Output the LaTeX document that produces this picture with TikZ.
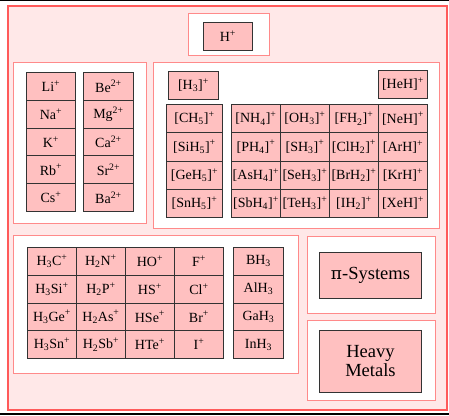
\documentclass[tikz,border=0pt]{standalone}
\usepackage{fontspec}
\setmainfont{Liberation Serif}
\definecolor{outerfill}{HTML}{FFE8E8}
\definecolor{outerdraw}{HTML}{FF5A5A}
\definecolor{groupdraw}{HTML}{FF8A8A}
\definecolor{cellfill}{HTML}{FFC0C0}
\definecolor{celldraw}{HTML}{333333}
\newcommand{\sps}{\textsuperscript{+}}
\newcommand{\spp}{\textsuperscript{2+}}
\newcommand{\sbs}[1]{\textsubscript{#1}}
\tikzset{
  outerbox/.style={draw=outerdraw, fill=outerfill, line width=1.5pt},
  groupbox/.style={draw=groupdraw, fill=white, line width=1.4pt},
  cell/.style={draw=celldraw, fill=cellfill, line width=0.9pt, inner sep=0pt,
    anchor=north west, font=\fontsize{14}{15}\selectfont},
  bigcell/.style={cell, font=\fontsize{18.5}{19}\selectfont, align=center},
}
% \boxat{name}{style}{x1}{y1}{x2}{y2}{text}
\newcommand{\boxat}[7]{%
  \node[#2, minimum width={#5pt-#3pt}, minimum height={#6pt-#4pt},
        anchor=north west, inner sep=0pt] (#1) at (#3,#4) {#7};}
\begin{document}
\begin{tikzpicture}[x=1pt,y=-1pt]
\useasboundingbox (0,0) rectangle (449,415);
\fill[black] (0,0) rectangle (449,1.2);
\fill[black] (0,412.5) rectangle (449,415);
\boxat{outer}{outerbox}{7}{5}{446}{409}{}
% groups
\boxat{gH}{groupbox}{188}{13}{269}{55}{}
\boxat{gAlk}{groupbox}{13}{62}{146}{223}{}
\boxat{gOnium}{groupbox}{153}{62}{439}{228}{}
\boxat{gHyd}{groupbox}{13}{235}{298}{373}{}
\boxat{gPi}{groupbox}{307}{236}{435}{313}{}
\boxat{gHeavy}{groupbox}{307}{320}{435}{400}{}
% H+
\boxat{hplus}{cell}{203}{22}{252}{50}{H\sps}
% alkali / alkaline earth
\foreach \t [count=\i from 0] in {Li\sps, Na\sps, K\sps, Rb\sps, Cs\sps}
  \node[cell, minimum width=49pt, minimum height=27.8pt] (alk\i) at (26,{72+27.8*\i}) {\t};
\foreach \t [count=\i from 0] in {Be\spp, Mg\spp, Ca\spp, Sr\spp, Ba\spp}
  \node[cell, minimum width=50pt, minimum height=27.8pt] (ear\i) at (83,{72+27.8*\i}) {\t};
% onium
\boxat{h3}{cell}{168}{71}{218}{99}{[H\sbs{3}]\sps}
\boxat{heh}{cell}{378}{70}{427}{98}{[HeH]\sps}
\foreach \t [count=\i from 0] in {{[CH\sbs{5}]\sps}, {[SiH\sbs{5}]\sps}, {[GeH\sbs{5}]\sps}, {[SnH\sbs{5}]\sps}}
  \node[cell, minimum width=56pt, minimum height=28.25pt] (c\i) at (166,{104+28.25*\i}) {\t};
\foreach \r/\c/\t in {
  0/0/{[NH\sbs{4}]\sps}, 0/1/{[OH\sbs{3}]\sps}, 0/2/{[FH\sbs{2}]\sps}, 0/3/{[NeH]\sps},
  1/0/{[PH\sbs{4}]\sps}, 1/1/{[SH\sbs{3}]\sps}, 1/2/{[ClH\sbs{2}]\sps}, 1/3/{[ArH]\sps},
  2/0/{[AsH\sbs{4}]\sps}, 2/1/{[SeH\sbs{3}]\sps}, 2/2/{[BrH\sbs{2}]\sps}, 2/3/{[KrH]\sps},
  3/0/{[SbH\sbs{4}]\sps}, 3/1/{[TeH\sbs{3}]\sps}, 3/2/{[IH\sbs{2}]\sps}, 3/3/{[XeH]\sps}}
  \node[cell, minimum width=49pt, minimum height=28.25pt] (on\r\c) at ({231+49*\c},{104+28.25*\r}) {\t};
% carbenium-like
\foreach \r/\c/\t in {
  0/0/{H\sbs{3}C\sps}, 0/1/{H\sbs{2}N\sps}, 0/2/{HO\sps}, 0/3/{F\sps},
  1/0/{H\sbs{3}Si\sps}, 1/1/{H\sbs{2}P\sps}, 1/2/{HS\sps}, 1/3/{Cl\sps},
  2/0/{H\sbs{3}Ge\sps}, 2/1/{H\sbs{2}As\sps}, 2/2/{HSe\sps}, 2/3/{Br\sps},
  3/0/{H\sbs{3}Sn\sps}, 3/1/{H\sbs{2}Sb\sps}, 3/2/{HTe\sps}, 3/3/{I\sps}}
  \node[cell, minimum width=49pt, minimum height=27.75pt] (ca\r\c) at ({27+49*\c},{247+27.75*\r}) {\t};
\foreach \t [count=\i from 0] in {BH\sbs{3}, AlH\sbs{3}, GaH\sbs{3}, InH\sbs{3}}
  \node[cell, minimum width=50pt, minimum height=27.75pt] (b\i) at (233,{247+27.75*\i}) {\t};
% pi / heavy
\boxat{pi}{bigcell}{319}{252}{421}{298}{\fontspec{DejaVu Serif}\fontsize{17}{19}\selectfont π\fontspec{Liberation Serif}\fontsize{18.5}{19}\selectfont-Systems}
\boxat{heavy}{bigcell}{319}{330}{421}{392}{Heavy\\Metals}
\end{tikzpicture}
\end{document}
